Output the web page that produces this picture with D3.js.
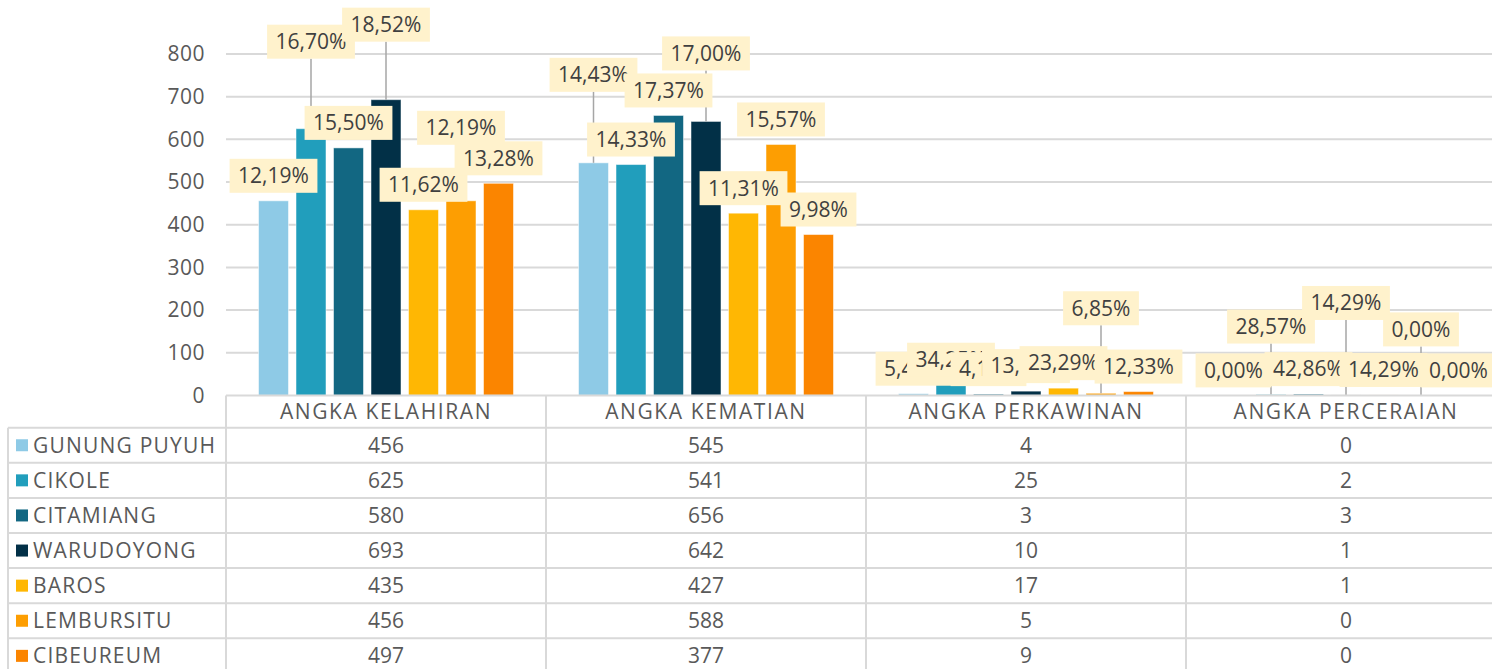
<!DOCTYPE html>
<html lang="en">
<head>
<meta charset="utf-8">
<title>Angka Kelahiran, Kematian, Perkawinan, Perceraian</title>
<script src="https://d3js.org/d3.v7.min.js"></script>
<style>
  body { margin: 0; background: #fff; }
  svg { display: block; font-family: "Open Sans", sans-serif; }
</style>
</head>
<body>
<script>
var categories = ["ANGKA KELAHIRAN", "ANGKA KEMATIAN", "ANGKA PERKAWINAN", "ANGKA PERCERAIAN"];
var kecamatan = ["GUNUNG PUYUH", "CIKOLE", "CITAMIANG", "WARUDOYONG", "BAROS", "LEMBURSITU", "CIBEUREUM"];
var kelahiran = [456, 625, 580, 693, 435, 456, 497];
var kematian = [545, 541, 656, 642, 427, 588, 377];
var perkawinan = [4, 25, 3, 10, 17, 5, 9];
var perceraian = [0, 2, 3, 1, 1, 0, 0];
var yTicks = [0, 100, 200, 300, 400, 500, 600, 700, 800];
var colors = ["#8ECAE6", "#219EBC", "#126782", "#023047", "#FFB703", "#FD9E02", "#FB8500"];

// extra vertical shift of the hand-placed data labels (px), per category
var labelShift = [
  [0, -62, 0, -50, 0, -48, 0],
  [-63, 0, 0, -43, 0, 0, 0],
  [0, 0, 0, 0, 0, -60, 0],
  [0, -43, 0, -67, 0, -41, 0]
];

var series = [kelahiran, kematian, perkawinan, perceraian];

var W = 1492, H = 669;
var plotLeft = 226, band = 320;
var textCol = "#595959", lineCol = "#D9D9D9";

var svg = d3.select("body").append("svg")
  .attr("width", W)
  .attr("height", H);

var x0 = d3.scaleBand().domain(categories).range([plotLeft, plotLeft + band * 4]);
var x1 = d3.scaleBand().domain(kecamatan).range([25, 295]).padding(0.2);
var y = d3.scaleLinear().domain([0, 800]).range([395.4, 54]);

// gridlines
svg.append("g")
  .selectAll("line")
  .data(yTicks.slice(1))
  .enter()
  .append("line")
  .attr("x1", plotLeft)
  .attr("x2", W)
  .attr("y1", d => y(d))
  .attr("y2", d => y(d))
  .attr("stroke", lineCol)
  .attr("stroke-width", 2);

// y tick labels
svg.append("g")
  .selectAll("text")
  .data(yTicks)
  .enter()
  .append("text")
  .attr("x", 205)
  .attr("y", d => y(d))
  .attr("dy", "0.35em")
  .attr("text-anchor", "end")
  .attr("font-size", "21px")
  .attr("letter-spacing", "0.5px")
  .attr("fill", textCol)
  .text(d => d);

// bars
var groups = svg.append("g")
  .selectAll("g")
  .data(categories)
  .enter()
  .append("g")
  .attr("transform", d => "translate(" + x0(d) + ",0)");

groups.selectAll("rect")
  .data((c, ci) => series[ci].map((v, i) => ({ name: kecamatan[i], v: v, i: i })))
  .enter()
  .append("rect")
  .attr("x", d => x1(d.name))
  .attr("y", d => y(d.v))
  .attr("width", x1.bandwidth())
  .attr("height", d => y(0) - y(d.v))
  .attr("fill", d => colors[d.i])
  .attr("stroke", "#fff")
  .attr("stroke-opacity", 0.5)
  .attr("stroke-width", 1);

// data labels (share of the category total)
var fmt = d3.format(".2f");
var labels = [];
categories.forEach(function (c, ci) {
  var total = d3.sum(series[ci]);
  series[ci].forEach(function (v, i) {
    labels.push({
      cx: x0(c) + x1(kecamatan[i]) + x1.bandwidth() / 2,
      top: y(v),
      cy: y(v) - 25 + labelShift[ci][i],
      shifted: labelShift[ci][i] !== 0,
      text: fmt(v / total * 100).replace(".", ",") + "%"
    });
  });
});

// leader lines sit below every label box
svg.append("g")
  .selectAll("line")
  .data(labels.filter(d => d.shifted))
  .enter()
  .append("line")
  .attr("x1", d => d.cx)
  .attr("x2", d => d.cx)
  .attr("y1", d => d.cy + 17)
  .attr("y2", d => d.top)
  .attr("stroke", "#A6A6A6")
  .attr("stroke-width", 1.5);

var lab = svg.append("g")
  .selectAll("g")
  .data(labels)
  .enter()
  .append("g");

var labBox = lab.append("rect")
  .attr("fill", "#FFF2CC");

var labText = lab.append("text")
  .attr("x", d => d.cx)
  .attr("y", d => d.cy)
  .attr("dy", "0.35em")
  .attr("text-anchor", "middle")
  .attr("font-size", "21px")
  .attr("fill", "#404040")
  .text(d => d.text);

labText.each(function (d) { d.w = this.getComputedTextLength() + 17; });
labBox
  .attr("x", d => d.cx - d.w / 2)
  .attr("y", d => d.cy - 17)
  .attr("width", d => d.w)
  .attr("height", 34);

// data table
var headTop = y(0), headBottom = 427.7, rowH = 35.1;
var table = svg.append("g");

table.append("line")
  .attr("x1", plotLeft).attr("x2", W)
  .attr("y1", headTop).attr("y2", headTop)
  .attr("stroke", lineCol).attr("stroke-width", 2);

table.selectAll("line.row")
  .data(d3.range(kecamatan.length + 1))
  .enter()
  .append("line")
  .attr("class", "row")
  .attr("x1", 8).attr("x2", W)
  .attr("y1", d => headBottom + d * rowH)
  .attr("y2", d => headBottom + d * rowH)
  .attr("stroke", lineCol).attr("stroke-width", 2);

table.append("line")
  .attr("x1", 8).attr("x2", 8)
  .attr("y1", headBottom).attr("y2", H)
  .attr("stroke", lineCol).attr("stroke-width", 2);

table.selectAll("line.col")
  .data([plotLeft].concat(categories.map(c => x0(c) + band)))
  .enter()
  .append("line")
  .attr("class", "col")
  .attr("x1", d => d).attr("x2", d => d)
  .attr("y1", headTop).attr("y2", H)
  .attr("stroke", lineCol).attr("stroke-width", 2);

table.selectAll("text.head")
  .data(categories)
  .enter()
  .append("text")
  .attr("class", "head")
  .attr("x", d => x0(d) + band / 2)
  .attr("y", (headTop + headBottom) / 2)
  .attr("dy", "0.35em")
  .attr("text-anchor", "middle")
  .attr("font-size", "21px")
  .attr("letter-spacing", "1.6px")
  .attr("fill", textCol)
  .text(d => d);

var rows = table.selectAll("g.rowg")
  .data(kecamatan)
  .enter()
  .append("g")
  .attr("class", "rowg")
  .attr("transform", (d, i) => "translate(0," + (headBottom + i * rowH + rowH / 2) + ")");

rows.append("rect")
  .attr("x", 16).attr("y", -6)
  .attr("width", 12).attr("height", 12)
  .attr("fill", (d, i) => colors[i]);

rows.append("text")
  .attr("x", 33)
  .attr("dy", "0.35em")
  .attr("font-size", "21px")
  .attr("letter-spacing", "1.2px")
  .attr("fill", textCol)
  .text(d => d);

rows.each(function (d, i) {
  d3.select(this).selectAll("text.val")
    .data(series.map(s => s[i]))
    .enter()
    .append("text")
    .attr("class", "val")
    .attr("x", (v, ci) => x0(categories[ci]) + band / 2)
    .attr("dy", "0.35em")
    .attr("text-anchor", "middle")
    .attr("font-size", "21px")
    .attr("fill", textCol)
    .text(v => v);
});
</script>
</body>
</html>
